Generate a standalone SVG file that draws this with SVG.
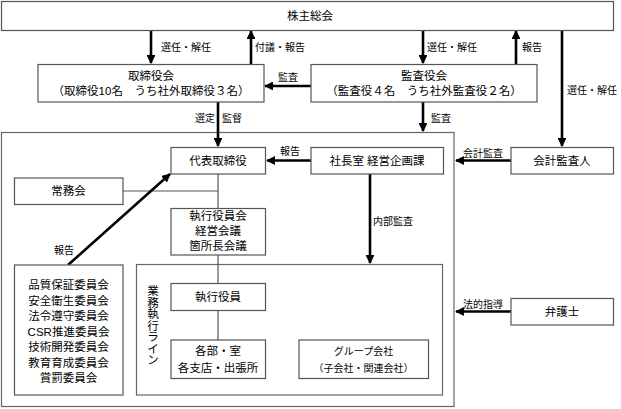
<svg xmlns="http://www.w3.org/2000/svg" width="621" height="409" viewBox="0 0 621 409">
<defs>
<marker id="ah" viewBox="0 0 10 10" refX="9" refY="5" markerWidth="3.4" markerHeight="3.4" orient="auto" markerUnits="strokeWidth">
<path d="M0,0 L10,5 L0,10 z" fill="#000"/>
</marker>
<style>
.box{fill:#fff;stroke:#555;stroke-width:1.2}
.frame{fill:none;stroke:#666;stroke-width:1.2}
.t{font-family:"Liberation Sans","Noto Sans CJK JP",sans-serif;font-size:11.5px;fill:#000;text-anchor:middle}
.lb{font-family:"Liberation Sans","Noto Sans CJK JP",sans-serif;font-size:10px;fill:#000}
.arr{stroke:#000;stroke-width:2.6;fill:none;marker-end:url(#ah)}
.ln{stroke:#555;stroke-width:1.2;fill:none}
</style>
</defs>
<rect width="621" height="409" fill="#fff"/>

<rect class="frame" x="1.5" y="132.5" width="452.5" height="274"/>
<rect class="frame" x="136.5" y="264.5" width="306" height="130.5"/>

<g id="connectors">
<line class="ln" x1="123" y1="191" x2="218" y2="191"/>
<line class="ln" x1="218" y1="174" x2="218" y2="208"/>
<line class="ln" x1="218" y1="255" x2="218" y2="283"/>
<line class="ln" x1="218" y1="311" x2="218" y2="340"/>
<line class="arr" x1="151" y1="30" x2="151" y2="63"/>
<line class="arr" x1="251" y1="64" x2="251" y2="31"/>
<line class="arr" x1="423" y1="30" x2="423" y2="63"/>
<line class="arr" x1="516" y1="64" x2="516" y2="31"/>
<line class="arr" x1="562" y1="30" x2="562" y2="146"/>
<line class="arr" x1="311" y1="86" x2="265" y2="86"/>
<line class="arr" x1="218" y1="102" x2="218" y2="146"/>
<line class="arr" x1="423" y1="102" x2="423" y2="131"/>
<line class="arr" x1="311" y1="160.5" x2="267" y2="160.5"/>
<line class="arr" x1="511" y1="160.5" x2="456" y2="160.5"/>
<line class="arr" x1="68" y1="265" x2="170" y2="174"/>
<line class="arr" x1="370" y1="174" x2="370" y2="263"/>
<line class="arr" x1="511" y1="311.5" x2="456" y2="311.5"/>
<text class="lb" x="161" y="51">選任・解任</text>
<text class="lb" x="255" y="51">付議・報告</text>
<text class="lb" x="427" y="51">選任・解任</text>
<text class="lb" x="522" y="51">報告</text>
<text class="lb" x="567" y="94">選任・解任</text>
<text class="lb" x="278" y="81">監査</text>
<text class="lb" x="195" y="122">選定</text>
<text class="lb" x="222" y="122">監督</text>
<text class="lb" x="431" y="121.5">監査</text>
<text class="lb" x="280" y="155">報告</text>
<text class="lb" x="463" y="157">会計監査</text>
<text class="lb" x="373" y="224.5">内部監査</text>
<text class="lb" x="54" y="254">報告</text>
<text class="lb" x="463" y="308">法的指導</text>
</g>

<g id="kabunushi">
<rect class="box" x="1.5" y="1.5" width="612" height="29"/>
<text class="t" x="310" y="20">株主総会</text>
</g>
<g id="torishimariyakukai">
<rect class="box" x="38" y="64.5" width="226" height="37.5"/>
<text class="t" x="151" y="80">取締役会</text>
<text class="t" x="151" y="95">（取締役10名　うち社外取締役３名）</text>
</g>
<g id="kansayakukai">
<rect class="box" x="311" y="64.5" width="226" height="37.5"/>
<text class="t" x="424" y="80">監査役会</text>
<text class="t" x="424" y="95">（監査役４名　うち社外監査役２名）</text>
</g>
<g id="daihyo">
<rect class="box" x="171" y="147.5" width="94.5" height="26.5"/>
<text class="t" x="218" y="165">代表取締役</text>
</g>
<g id="shachoshitsu">
<rect class="box" x="311" y="147.5" width="132.5" height="26.5"/>
<text class="t" x="377" y="165">社長室 経営企画課</text>
</g>
<g id="kaikei">
<rect class="box" x="511" y="147.5" width="102.5" height="26.5"/>
<text class="t" x="562" y="165">会計監査人</text>
</g>
<g id="jomukai">
<rect class="box" x="14.5" y="178" width="108.5" height="26.5"/>
<text class="t" x="68.5" y="195">常務会</text>
</g>
<g id="shikkoyakuinkai">
<rect class="box" x="171" y="208.5" width="94.5" height="46.5"/>
<text class="t" x="218" y="220">執行役員会</text>
<text class="t" x="218" y="235">経営会議</text>
<text class="t" x="218" y="250">箇所長会議</text>
</g>
<g id="iinkai">
<rect class="box" x="14.5" y="265" width="108.5" height="130"/>
<text class="t" x="68.5" y="289">品質保証委員会</text>
<text class="t" x="68.5" y="304.5">安全衛生委員会</text>
<text class="t" x="68.5" y="320">法令遵守委員会</text>
<text class="t" x="68.5" y="335.5">CSR推進委員会</text>
<text class="t" x="68.5" y="351">技術開発委員会</text>
<text class="t" x="68.5" y="366.5">教育育成委員会</text>
<text class="t" x="68.5" y="382">賞罰委員会</text>
</g>
<g id="gyomu">
<text class="t"><tspan x="153" y="295">業</tspan><tspan x="153" y="306.5">務</tspan><tspan x="153" y="318">執</tspan><tspan x="153" y="329.5">行</tspan><tspan x="153" y="341">ラ</tspan><tspan x="153" y="352.5">イ</tspan><tspan x="153" y="364">ン</tspan></text>
</g>
<g id="shikkoyakuin">
<rect class="box" x="171" y="283.5" width="94.5" height="27"/>
<text class="t" x="218" y="301">執行役員</text>
</g>
<g id="kakubu">
<rect class="box" x="171" y="340" width="94.5" height="38.5"/>
<text class="t" x="218" y="355">各部・室</text>
<text class="t" x="218" y="372">各支店・出張所</text>
</g>
<g id="group">
<rect class="box" x="299" y="340" width="129.5" height="38.5"/>
<text class="lb" x="363.5" y="355" style="text-anchor:middle">グループ会社</text>
<text class="lb" x="363.5" y="372" style="text-anchor:middle">（子会社・関連会社）</text>
</g>
<g id="bengoshi">
<rect class="box" x="511" y="298.5" width="102.5" height="26.5"/>
<text class="t" x="562" y="316">弁護士</text>
</g>
</svg>
